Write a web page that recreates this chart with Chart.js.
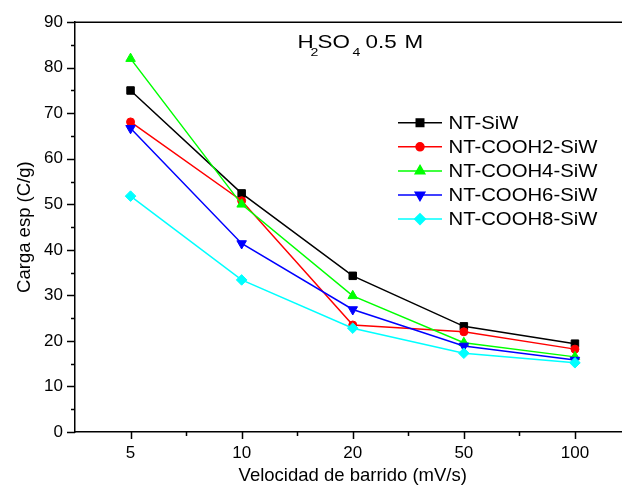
<!DOCTYPE html>
<html>
<head>
<meta charset="utf-8">
<script src="https://cdn.jsdelivr.net/npm/chart.js"></script>
<style>
  html, body { margin: 0; padding: 0; background: #fff; overflow: hidden; }
  canvas { display: block; }
</style>
</head>
<body>
<canvas id="grafico" width="640" height="495"></canvas>
<script>
// Dados
const velocidades = ['5', '10', '20', '50', '100'];
const ntSiW = [75.0, 52.4, 34.3, 23.2, 19.4];
const cooh2SiW = [68.1, 50.8, 23.5, 22.0, 18.2];
const cooh4SiW = [82.0, 50.0, 29.9, 19.6, 16.5];
const cooh6SiW = [66.7, 41.4, 26.9, 18.9, 15.8];
const cooh8SiW = [51.8, 33.4, 22.8, 17.3, 15.2];
const yTicks = [0, 10, 20, 30, 40, 50, 60, 70, 80, 90];

const FONTE = '"Liberation Sans", Arial, sans-serif';

// Série: nome, dados, cor, marcador
const series = [
    { label: 'NT-SiW', data: ntSiW, color: '#000000', style: 'rect', radius: 5.3, rotation: 0 },
    { label: 'NT-COOH2-SiW', data: cooh2SiW, color: '#ff0000', style: 'circle', radius: 4, rotation: 0 },
    { label: 'NT-COOH4-SiW', data: cooh4SiW, color: '#00ff00', style: 'triangle', radius: 5.5, rotation: 0 },
    { label: 'NT-COOH6-SiW', data: cooh6SiW, color: '#0000ff', style: 'triangle', radius: 5.5, rotation: 180 },
    { label: 'NT-COOH8-SiW', data: cooh8SiW, color: '#00ffff', style: 'rectRot', radius: 5.3, rotation: 0 }
];

// Ticks maiores e menores, mais a borda superior
const ticksPlugin = {
    id: 'ticksOrigin',
    afterDraw(chart) {
        const { ctx, chartArea } = chart;
        const x = chart.scales.x;
        const y = chart.scales.y;
        ctx.save();
        ctx.strokeStyle = '#000';
        ctx.lineWidth = 1.5;
        ctx.beginPath();
        // borda superior
        ctx.moveTo(chartArea.left, chartArea.top);
        ctx.lineTo(chartArea.right, chartArea.top);
        // ticks do eixo y
        for (let v = 0; v <= 90; v += 5) {
            const py = Math.round(y.getPixelForValue(v)) + 0.5;
            const len = v % 10 === 0 ? 8 : 4;
            ctx.moveTo(chartArea.left, py);
            ctx.lineTo(chartArea.left - len, py);
        }
        // ticks do eixo x
        for (let i = 0; i < velocidades.length; i++) {
            const px = Math.round(x.getPixelForValue(i)) + 0.5;
            ctx.moveTo(px, chartArea.bottom);
            ctx.lineTo(px, chartArea.bottom + 7);
            if (i < velocidades.length - 1) {
                const pm = Math.round((x.getPixelForValue(i) + x.getPixelForValue(i + 1)) / 2) + 0.5;
                ctx.moveTo(pm, chartArea.bottom);
                ctx.lineTo(pm, chartArea.bottom + 4);
            }
        }
        ctx.stroke();
        ctx.restore();
    }
};

// Título H2SO4 0.5 M com subscritos
const tituloPlugin = {
    id: 'tituloQuimico',
    afterDraw(chart) {
        const ctx = chart.ctx;
        const partes = [
            { t: 'H', sub: false, x: 297.5 },
            { t: '2', sub: true, x: 310.5 },
            { t: 'SO', sub: false, x: 317.5 },
            { t: '4', sub: true, x: 352.5 },
            { t: '0.5', sub: false, x: 365.5 },
            { t: 'M', sub: false, x: 404.5 }
        ];
        const base = 47.5;
        ctx.save();
        ctx.fillStyle = '#000';
        ctx.textBaseline = 'alphabetic';
        partes.forEach(p => {
            ctx.save();
            ctx.translate(p.x, p.sub ? base + 8 : base);
            ctx.scale(1.28, 1);
            ctx.font = (p.sub ? '11px ' : '17.5px ') + FONTE;
            ctx.fillText(p.t, 0, 0);
            ctx.restore();
        });
        ctx.restore();
    }
};

// Legenda com linha + marcador
const legendaPlugin = {
    id: 'legendaOrigin',
    afterDraw(chart) {
        const ctx = chart.ctx;
        const x0 = 398, x1 = 442, xt = 448.5;
        const y0 = 122.7, passo = 24.1;
        ctx.save();
        chart.data.datasets.forEach((ds, i) => {
            const cy = y0 + i * passo;
            ctx.strokeStyle = ds.borderColor;
            ctx.lineWidth = 1.5;
            ctx.beginPath();
            ctx.moveTo(x0, cy);
            ctx.lineTo(x1, cy);
            ctx.stroke();
            ctx.fillStyle = ds.borderColor;
            Chart.helpers.drawPoint(ctx, {
                pointStyle: ds.pointStyle,
                radius: ds.pointRadius,
                rotation: ds.pointRotation,
                borderWidth: 1
            }, (x0 + x1) / 2, cy);
            ctx.save();
            ctx.translate(xt, cy + 6.3);
            ctx.scale(1.16, 1);
            ctx.fillStyle = '#000';
            ctx.font = '17.5px ' + FONTE;
            ctx.textBaseline = 'alphabetic';
            ctx.fillText(ds.label, 0, 0);
            ctx.restore();
        });
        ctx.restore();
    }
};

const ctx = document.getElementById('grafico');

new Chart(ctx, {
    type: 'line',
    data: {
        labels: velocidades,
        datasets: series.map((s, i) => ({
            label: s.label,
            data: s.data,
            borderColor: s.color,
            backgroundColor: s.color,
            borderWidth: 1.5,
            pointStyle: s.style,
            pointRadius: s.radius,
            pointRotation: s.rotation,
            pointBorderWidth: 1,
            pointBorderColor: s.color,
            pointBackgroundColor: s.color,
            tension: 0,
            fill: false,
            order: series.length - 1 - i
        }))
    },
    options: {
        responsive: false,
        animation: false,
        layout: { padding: { top: 22, right: 9.5, left: 0, bottom: 0 } },
        plugins: {
            legend: { display: false },
            tooltip: { enabled: false }
        },
        scales: {
            x: {
                type: 'category',
                offset: true,
                grid: { display: false, drawTicks: false },
                border: { display: true, color: '#000', width: 1.5 },
                ticks: {
                    color: '#000',
                    padding: 11,
                    font: { family: FONTE, size: 17 }
                },
                title: {
                    display: true,
                    text: 'Velocidad de barrido (mV/s)',
                    color: '#000',
                    font: { family: FONTE, size: 18.5 },
                    padding: { top: 0, bottom: 8 }
                },
                afterFit(scale) { scale.height = 63; }
            },
            y: {
                min: 0,
                max: 90,
                grid: { display: false, drawTicks: false },
                border: { display: true, color: '#000', width: 1.5 },
                afterBuildTicks(scale) {
                    scale.ticks = yTicks.map(v => ({ value: v }));
                },
                ticks: {
                    color: '#000',
                    padding: 12,
                    font: { family: FONTE, size: 17 }
                },
                title: {
                    display: true,
                    text: 'Carga esp (C/g)',
                    color: '#000',
                    font: { family: FONTE, size: 18.5 },
                    padding: { top: 14, bottom: 0 }
                },
                afterFit(scale) { scale.width = 75; }
            }
        }
    },
    plugins: [ticksPlugin, tituloPlugin, legendaPlugin]
});
</script>
</body>
</html>
